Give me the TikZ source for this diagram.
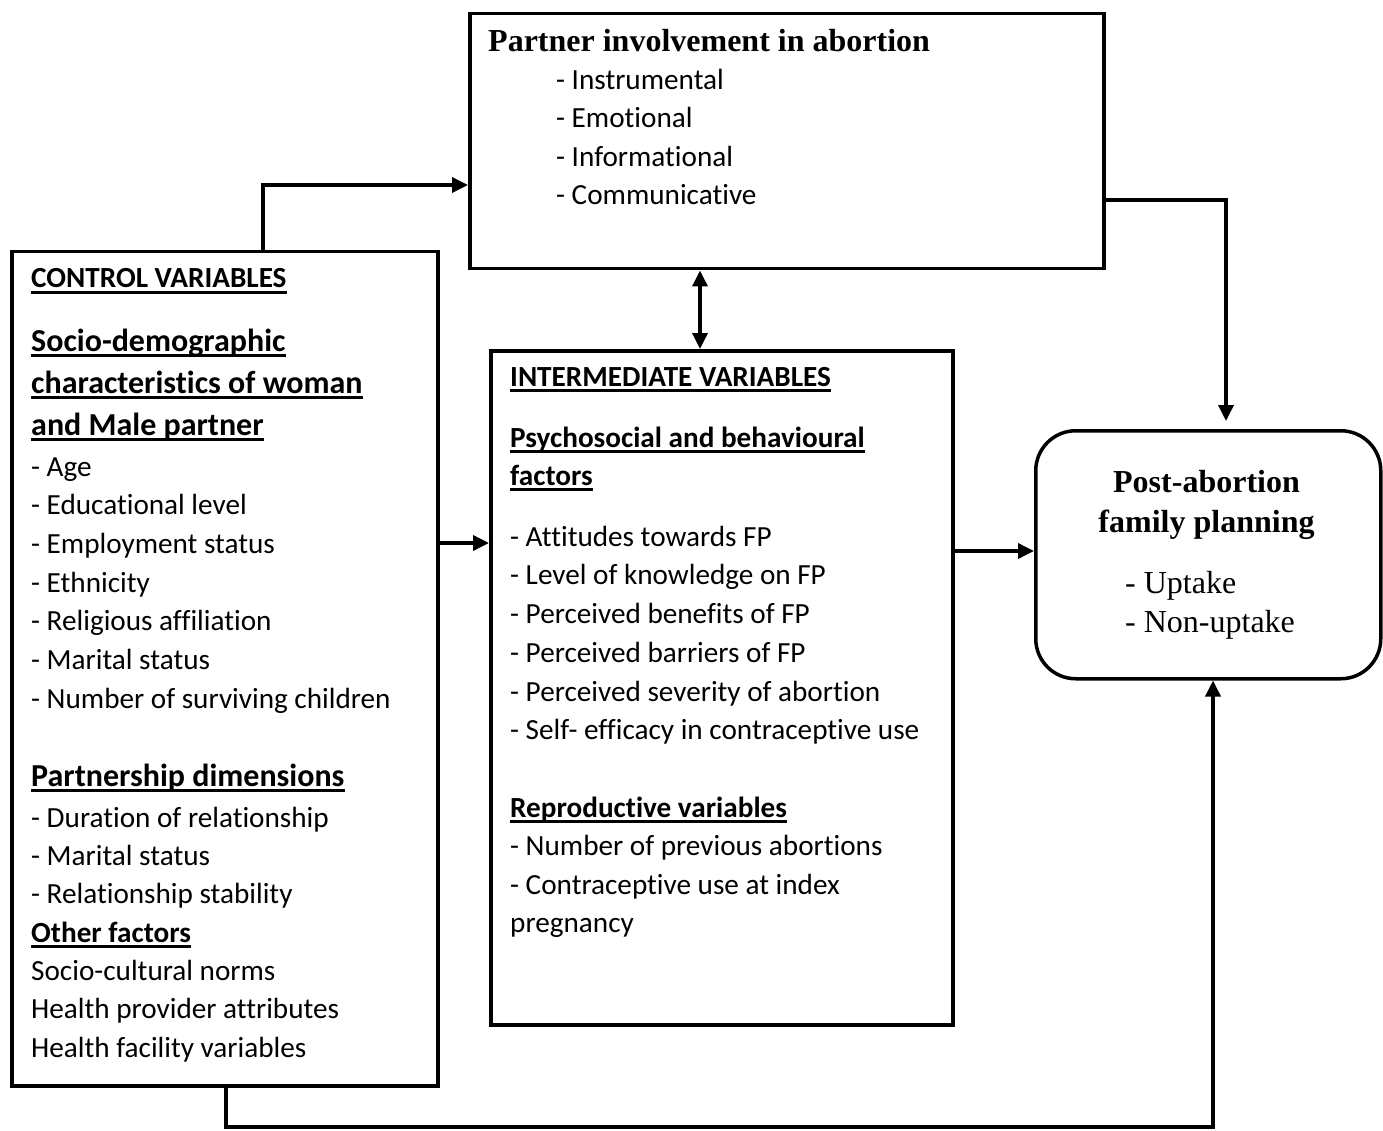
\documentclass[tikz,border=0pt]{standalone}
\usepackage{fontspec}
\setmainfont{Carlito}[Ligatures={NoCommon,NoContextual}]
\newfontfamily\tms{Liberation Serif}
\usetikzlibrary{arrows.meta}

\begin{document}
\begin{tikzpicture}[x=1pt,y=-1pt,
  box/.style={draw,line width=3.5,inner sep=0,anchor=north west},
  conn/.style={line width=3.5,-{Triangle[length=16,width=15]}},
  txt/.style={anchor=base west,inner sep=0,font=\fontsize{29.2}{35}\selectfont},
  hd/.style={txt,font=\fontsize{29.2}{35}\selectfont\bfseries},
  bighd/.style={txt,font=\fontsize{32}{38}\selectfont\bfseries},
  sertitle/.style={inner sep=0,font=\fontsize{32}{38}\selectfont\tms\bfseries},
  seritem/.style={anchor=base west,inner sep=0,font=\fontsize{32}{38}\selectfont\tms}]
\useasboundingbox (0,0) rectangle (1383,1131);

% boxes
\node[box,minimum width=634,minimum height=255] (pi) at (468,12) {};
\node[box,minimum width=426,minimum height=834] (ctl) at (10,250) {};
\node[box,minimum width=462,minimum height=674] (mid) at (489,349) {};
\node[box,minimum width=345,minimum height=248,rounded corners=40] (pafp) at (1034,429) {};

% partner involvement
\node[sertitle,anchor=base west] (pit) at (488,52) {Partner involvement in abortion};
\node[txt] (pi1) at (556,90) {- Instrumental};
\node[txt] (pi2) at (556,128) {- Emotional};
\node[txt] (pi3) at (556,167) {- Informational};
\node[txt] (pi4) at (556,205) {- Communicative};

% control variables
\node[hd] (cv) at (31,288) {CONTROL VARIABLES};
\node[bighd] (sd1) at (31,351) {Socio-demographic};
\node[bighd] (sd2) at (31,393) {characteristics of woman};
\node[bighd] (sd3) at (31,435) {and Male partner};
\node[txt] (a1) at (31,476) {- Age};
\node[txt] (a2) at (31,514) {- Educational level};
\node[txt] (a3) at (31,553) {- Employment status};
\node[txt] (a4) at (31,592) {- Ethnicity};
\node[txt] (a5) at (31,630) {- Religious affiliation};
\node[txt] (a6) at (31,669) {- Marital status};
\node[txt] (a7) at (31,708) {- Number of surviving children};
\node[bighd] (pd) at (31,786) {Partnership dimensions};
\node[txt] (b1) at (31,827) {- Duration of relationship};
\node[txt] (b2) at (31,865) {- Marital status};
\node[txt] (b3) at (31,903) {- Relationship stability};
\node[hd] (of) at (31,942) {Other factors};
\node[txt] (c1) at (31,980) {Socio-cultural norms};
\node[txt] (c2) at (31,1018) {Health provider attributes};
\node[txt] (c3) at (31,1057) {Health facility variables};

% intermediate variables
\node[hd] (iv) at (510,386) {INTERMEDIATE VARIABLES};
\node[hd] (ps1) at (510,447) {Psychosocial and behavioural};
\node[hd] (ps2) at (510,485) {factors};
\node[txt] (d1) at (510,546) {- Attitudes towards FP};
\node[txt] (d2) at (510,584) {- Level of knowledge on FP};
\node[txt] (d3) at (510,623) {- Perceived benefits of FP};
\node[txt] (d4) at (510,662) {- Perceived barriers of FP};
\node[txt] (d5) at (510,701) {- Perceived severity of abortion};
\node[txt] (d6) at (510,739) {- Self- efficacy in contraceptive use};
\node[hd] (rv) at (510,817) {Reproductive variables};
\node[txt] (e1) at (510,855) {- Number of previous abortions};
\node[txt] (e2) at (510,894) {- Contraceptive use at index};
\node[txt] (e3) at (510,932) {pregnancy};

% outcome
\node[sertitle,anchor=base] (po1) at (1206.5,492) {Post-abortion};
\node[sertitle,anchor=base] (po2) at (1206.5,532) {family planning};
\node[seritem] (u1) at (1125,593) {- Uptake};
\node[seritem] (u2) at (1125,632) {- Non-uptake};

% underlined headings
\foreach \n in {cv,sd1,sd2,sd3,pd,of,iv,ps1,ps2,rv}
  \draw[line width=2.5] ([yshift=-4.5]\n.base west) -- ([yshift=-4.5]\n.base east);

% connectors
\draw[conn] (ctl.north -| 263,0) |- (pi.west |- 0,185);
\draw[conn,shorten >=8] (pi.east |- 0,200) -| (pafp.north -| 1226,0);
\draw[line width=3.5,{Triangle[length=16,width=15]}-{Triangle[length=16,width=15]}] (pi.south -| 700,0) -- (mid.north -| 700,0);
\draw[conn] (ctl.east |- 0,543) -- (mid.west |- 0,543);
\draw[conn] (mid.east |- 0,551) -- (pafp.west |- 0,551);
\draw[conn] (ctl.south -| 226,0) -- (226,1127) -- (1213,1127) -- (pafp.south -| 1213,0);
\end{tikzpicture}
\end{document}
